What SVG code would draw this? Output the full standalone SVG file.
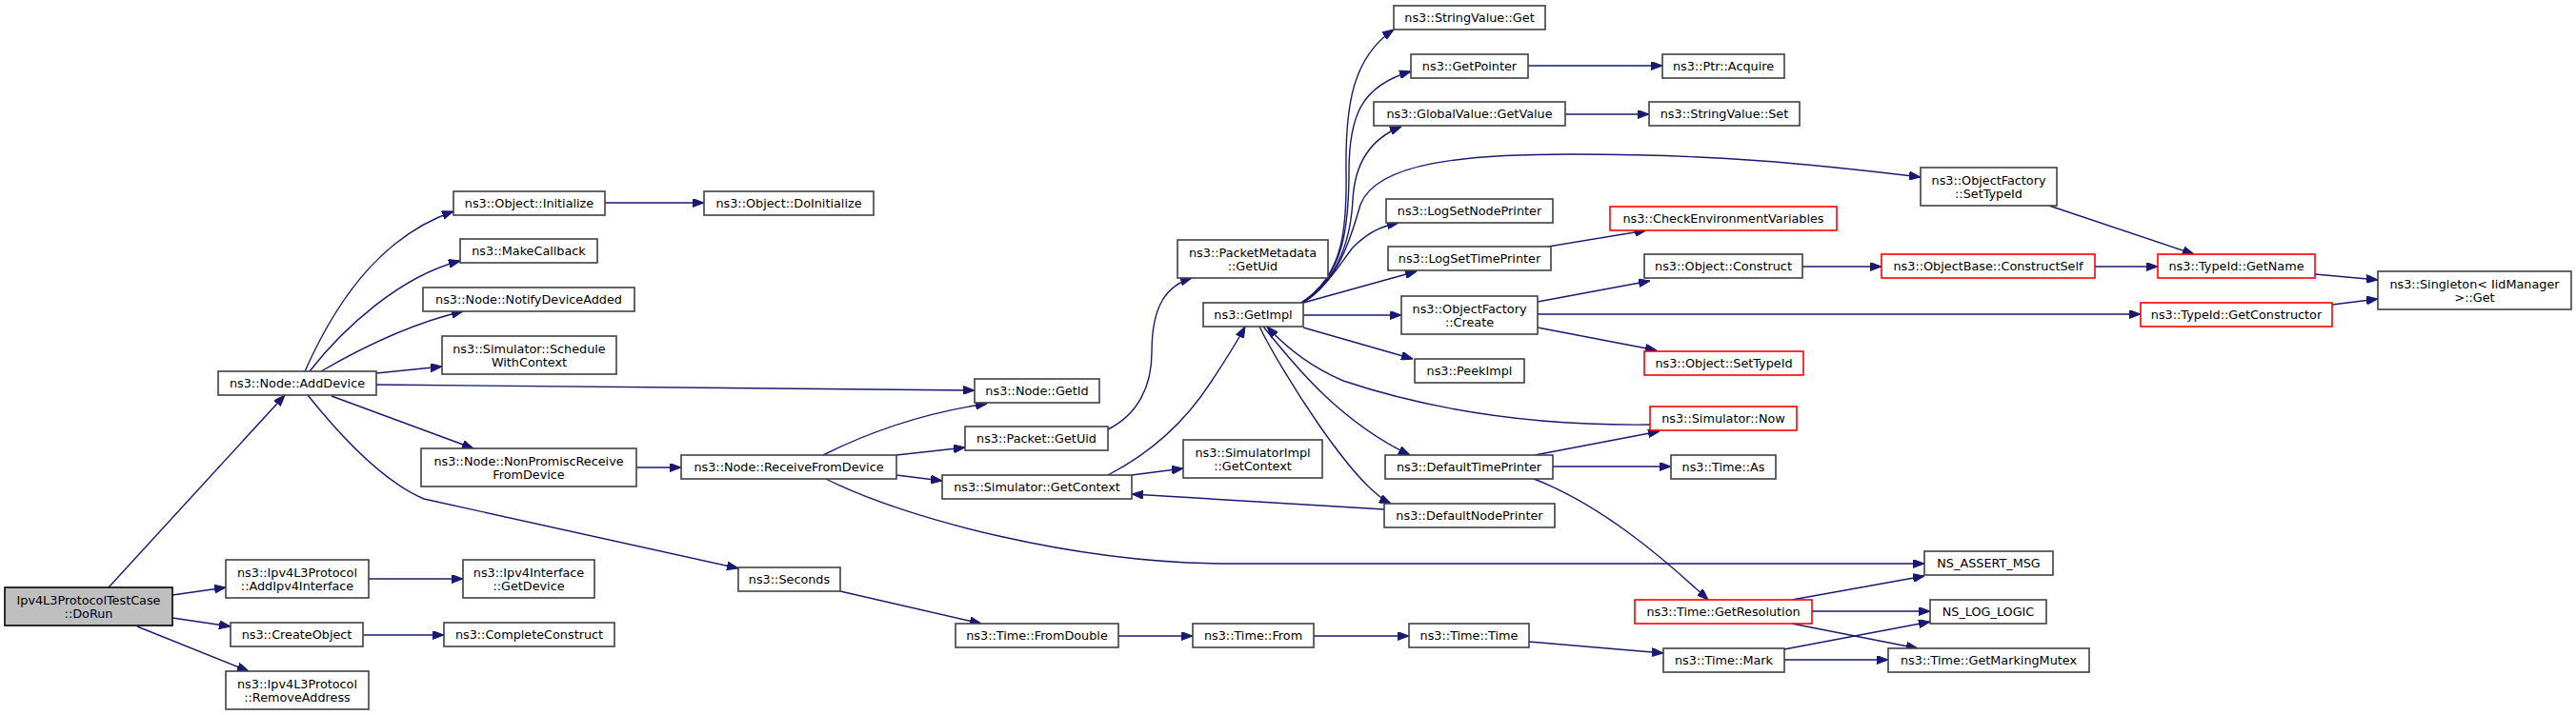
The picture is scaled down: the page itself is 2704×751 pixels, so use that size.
<svg xmlns="http://www.w3.org/2000/svg" width="2704" height="751" viewBox="0 0 2704 751">
<defs>
<style>
.n rect{fill:#fff;stroke:#404040;stroke-width:1.6}
.n.r rect{stroke:#ff0000}
.n.root rect{fill:#bfbfbf;stroke:#000}
.n text{font-family:"DejaVu Sans",sans-serif;font-size:12.8px;text-anchor:middle;fill:#000}
#edges path{fill:none;stroke:#191970;stroke-width:1.4;marker-end:url(#ah)}
</style>
<marker id="ah" viewBox="0 0 12 9" refX="12" refY="4.5" markerWidth="12" markerHeight="9" markerUnits="userSpaceOnUse" orient="auto">
<path d="M0,0 L12,4.5 L0,9 z" fill="#191970" stroke="#191970" stroke-width="1"/>
</marker>
</defs>
<rect width="2704" height="751" fill="#fff"/>
<g id="edges">
<path d="M114,617 L299,415"/>
<path d="M181,625 L237,617"/>
<path d="M181,649 L242,658"/>
<path d="M144,658 L261,705"/>
<path d="M387,608 L486,608"/>
<path d="M381,667 L466,667"/>
<path d="M320,390 C360,300 410,245 476,222"/>
<path d="M325,390 C360,345 420,290 483,274"/>
<path d="M337,390 C380,365 430,340 486,327"/>
<path d="M395,392 L464,385"/>
<path d="M395,404 L1023,410"/>
<path d="M348,416 L497,471"/>
<path d="M323,415 C355,455 400,505 445,524 L775,597"/>
<path d="M668,491 L715,491"/>
<path d="M864,478 C900,460 960,435 1036,424"/>
<path d="M941,478 L1013,470"/>
<path d="M941,499 L989,505"/>
<path d="M867,503 C950,545 1130,592 1290,592 L2020,592"/>
<path d="M1163,451 C1195,435 1209,405 1209,370 C1209,320 1225,300 1251,292"/>
<path d="M882,621 L1030,655"/>
<path d="M1174,668 L1252,668"/>
<path d="M1379,668 L1479,668"/>
<path d="M1605,674 L1746,686"/>
<path d="M1873,682 L2026,653"/>
<path d="M1873,693 L1982,693"/>
<path d="M1881,630 L2020,605"/>
<path d="M1902,642 L2026,642"/>
<path d="M1881,655 L2013,681"/>
<path d="M1188,499 L1242,492"/>
<path d="M1163,499 C1200,480 1240,450 1272,400 C1285,380 1297,362 1307,343"/>
<path d="M1453,535 L1188,519"/>
<path d="M1326,343 C1350,372 1400,440 1480,478"/>
<path d="M1322,343 C1345,390 1420,510 1460,529"/>
<path d="M1732,446 C1650,447 1530,440 1410,400 C1375,385 1350,365 1330,343"/>
<path d="M1611,478 L1742,453"/>
<path d="M1630,490 L1754,490"/>
<path d="M1610,503 C1680,530 1745,585 1793,630"/>
<path d="M1366,318 C1410,290 1414,240 1413,180 C1412,110 1420,60 1463,31"/>
<path d="M1366,318 C1410,290 1416,240 1416,180 C1416,120 1430,90 1481,75"/>
<path d="M1366,318 C1405,295 1418,250 1420,210 C1422,170 1440,145 1471,133"/>
<path d="M1368,318 C1405,295 1418,250 1428,215 C1445,170 1540,162 1650,162 C1800,162 1900,172 2016,186"/>
<path d="M1366,318 C1395,300 1408,275 1420,260 C1435,245 1448,238 1468,234"/>
<path d="M1368,318 L1487,285"/>
<path d="M1368,331 L1471,331"/>
<path d="M1368,344 L1483,377"/>
<path d="M1643,120 L1731,120"/>
<path d="M1604,69 L1745,69"/>
<path d="M1625,259 L1728,242"/>
<path d="M1614,317 L1732,295"/>
<path d="M1614,330 L2247,330"/>
<path d="M1614,344 L1739,368"/>
<path d="M1892,280 L1975,280"/>
<path d="M2199,280 L2265,280"/>
<path d="M2151,216 L2303,267"/>
<path d="M2430,288 L2496,294"/>
<path d="M2448,320 L2496,314"/>
<path d="M635,213 L739,213"/>
</g>
<g id="n_dorun" class="n root"><rect x="5" y="617" width="176" height="40"/><text x="93" y="634.5">Ipv4L3ProtocolTestCase</text><text x="93" y="648.5">::DoRun</text></g>
<g id="n_adddevice" class="n"><rect x="229" y="390" width="166" height="25"/><text x="312" y="407">ns3::Node::AddDevice</text></g>
<g id="n_addipv4" class="n"><rect x="237" y="588" width="150" height="40"/><text x="312" y="605.5">ns3::Ipv4L3Protocol</text><text x="312" y="619.5">::AddIpv4Interface</text></g>
<g id="n_createobject" class="n"><rect x="242" y="654" width="139" height="25"/><text x="311.5" y="671">ns3::CreateObject</text></g>
<g id="n_removeaddress" class="n"><rect x="237" y="705" width="150" height="40"/><text x="312" y="722.5">ns3::Ipv4L3Protocol</text><text x="312" y="736.5">::RemoveAddress</text></g>
<g id="n_getdevice" class="n"><rect x="486" y="588" width="138" height="40"/><text x="555" y="605.5">ns3::Ipv4Interface</text><text x="555" y="619.5">::GetDevice</text></g>
<g id="n_completeconstruct" class="n"><rect x="466" y="654" width="179" height="25"/><text x="555.5" y="671">ns3::CompleteConstruct</text></g>
<g id="n_initialize" class="n"><rect x="476" y="201" width="159" height="25"/><text x="555.5" y="218">ns3::Object::Initialize</text></g>
<g id="n_doinitialize" class="n"><rect x="739" y="201" width="178" height="25"/><text x="828" y="218">ns3::Object::DoInitialize</text></g>
<g id="n_makecallback" class="n"><rect x="483" y="251" width="144" height="25"/><text x="555" y="268">ns3::MakeCallback</text></g>
<g id="n_notifydeviceadded" class="n"><rect x="444" y="302" width="222" height="25"/><text x="555" y="319">ns3::Node::NotifyDeviceAdded</text></g>
<g id="n_schedulewithcontext" class="n"><rect x="464" y="353" width="183" height="40"/><text x="555.5" y="370.5">ns3::Simulator::Schedule</text><text x="555.5" y="384.5">WithContext</text></g>
<g id="n_nonpromisc" class="n"><rect x="442" y="471" width="226" height="40"/><text x="555" y="488.5">ns3::Node::NonPromiscReceive</text><text x="555" y="502.5">FromDevice</text></g>
<g id="n_receivefromdevice" class="n"><rect x="715" y="478" width="226" height="25"/><text x="828" y="495">ns3::Node::ReceiveFromDevice</text></g>
<g id="n_seconds" class="n"><rect x="775" y="596" width="107" height="25"/><text x="828.5" y="613">ns3::Seconds</text></g>
<g id="n_getid" class="n"><rect x="1023" y="398" width="131" height="25"/><text x="1088.5" y="415">ns3::Node::GetId</text></g>
<g id="n_packetgetuid" class="n"><rect x="1013" y="448" width="150" height="25"/><text x="1088" y="465">ns3::Packet::GetUid</text></g>
<g id="n_simgetcontext" class="n"><rect x="989" y="499" width="199" height="25"/><text x="1088.5" y="516">ns3::Simulator::GetContext</text></g>
<g id="n_fromdouble" class="n"><rect x="1003" y="655" width="171" height="25"/><text x="1088.5" y="672">ns3::Time::FromDouble</text></g>
<g id="n_from" class="n"><rect x="1252" y="655" width="127" height="25"/><text x="1315.5" y="672">ns3::Time::From</text></g>
<g id="n_timetime" class="n"><rect x="1479" y="655" width="126" height="25"/><text x="1542" y="672">ns3::Time::Time</text></g>
<g id="n_simimplgetcontext" class="n"><rect x="1242" y="462" width="146" height="40"/><text x="1315" y="479.5">ns3::SimulatorImpl</text><text x="1315" y="493.5">::GetContext</text></g>
<g id="n_pmgetuid" class="n"><rect x="1236" y="252" width="158" height="40"/><text x="1315" y="269.5">ns3::PacketMetadata</text><text x="1315" y="283.5">::GetUid</text></g>
<g id="n_getimpl" class="n"><rect x="1263" y="318" width="105" height="25"/><text x="1315.5" y="335">ns3::GetImpl</text></g>
<g id="n_svget" class="n"><rect x="1463" y="6" width="159" height="25"/><text x="1542.5" y="23">ns3::StringValue::Get</text></g>
<g id="n_getpointer" class="n"><rect x="1481" y="57" width="123" height="25"/><text x="1542.5" y="74">ns3::GetPointer</text></g>
<g id="n_gvgetvalue" class="n"><rect x="1442" y="107" width="201" height="25"/><text x="1542.5" y="124">ns3::GlobalValue::GetValue</text></g>
<g id="n_logsetnodeprinter" class="n"><rect x="1455" y="209" width="175" height="25"/><text x="1542.5" y="226">ns3::LogSetNodePrinter</text></g>
<g id="n_logsettimeprinter" class="n"><rect x="1457" y="259" width="171" height="25"/><text x="1542.5" y="276">ns3::LogSetTimePrinter</text></g>
<g id="n_ofcreate" class="n"><rect x="1471" y="311" width="143" height="40"/><text x="1542.5" y="328.5">ns3::ObjectFactory</text><text x="1542.5" y="342.5">::Create</text></g>
<g id="n_peekimpl" class="n"><rect x="1485" y="377" width="115" height="25"/><text x="1542.5" y="394">ns3::PeekImpl</text></g>
<g id="n_defaulttimeprinter" class="n"><rect x="1454" y="478" width="176" height="25"/><text x="1542" y="495">ns3::DefaultTimePrinter</text></g>
<g id="n_defaultnodeprinter" class="n"><rect x="1453" y="529" width="179" height="25"/><text x="1542.5" y="546">ns3::DefaultNodePrinter</text></g>
<g id="n_ptracquire" class="n"><rect x="1745" y="57" width="128" height="25"/><text x="1809" y="74">ns3::Ptr::Acquire</text></g>
<g id="n_svset" class="n"><rect x="1731" y="107" width="158" height="25"/><text x="1810" y="124">ns3::StringValue::Set</text></g>
<g id="n_checkenv" class="n r"><rect x="1690" y="217" width="238" height="25"/><text x="1809" y="234">ns3::CheckEnvironmentVariables</text></g>
<g id="n_objconstruct" class="n"><rect x="1726" y="267" width="166" height="25"/><text x="1809" y="284">ns3::Object::Construct</text></g>
<g id="n_objsettypeid" class="n r"><rect x="1726" y="369" width="167" height="25"/><text x="1809.5" y="386">ns3::Object::SetTypeId</text></g>
<g id="n_simnow" class="n r"><rect x="1732" y="427" width="154" height="25"/><text x="1809" y="444">ns3::Simulator::Now</text></g>
<g id="n_timeas" class="n"><rect x="1754" y="478" width="110" height="25"/><text x="1809" y="495">ns3::Time::As</text></g>
<g id="n_getresolution" class="n r"><rect x="1716" y="630" width="186" height="25"/><text x="1809" y="647">ns3::Time::GetResolution</text></g>
<g id="n_mark" class="n"><rect x="1746" y="681" width="127" height="25"/><text x="1809.5" y="698">ns3::Time::Mark</text></g>
<g id="n_ofsettypeid" class="n"><rect x="2016" y="176" width="143" height="40"/><text x="2087.5" y="193.5">ns3::ObjectFactory</text><text x="2087.5" y="207.5">::SetTypeId</text></g>
<g id="n_constructself" class="n r"><rect x="1975" y="267" width="224" height="25"/><text x="2087" y="284">ns3::ObjectBase::ConstructSelf</text></g>
<g id="n_nsassertmsg" class="n"><rect x="2020" y="579" width="135" height="25"/><text x="2087.5" y="596">NS_ASSERT_MSG</text></g>
<g id="n_nsloglogic" class="n"><rect x="2026" y="630" width="122" height="25"/><text x="2087" y="647">NS_LOG_LOGIC</text></g>
<g id="n_getmarkingmutex" class="n"><rect x="1982" y="681" width="211" height="25"/><text x="2087.5" y="698">ns3::Time::GetMarkingMutex</text></g>
<g id="n_getname" class="n r"><rect x="2265" y="267" width="165" height="25"/><text x="2347.5" y="284">ns3::TypeId::GetName</text></g>
<g id="n_getconstructor" class="n r"><rect x="2247" y="318" width="201" height="25"/><text x="2347.5" y="335">ns3::TypeId::GetConstructor</text></g>
<g id="n_singleton" class="n"><rect x="2496" y="285" width="203" height="40"/><text x="2597.5" y="302.5">ns3::Singleton&lt; IidManager</text><text x="2597.5" y="316.5">&gt;::Get</text></g>
</svg>
